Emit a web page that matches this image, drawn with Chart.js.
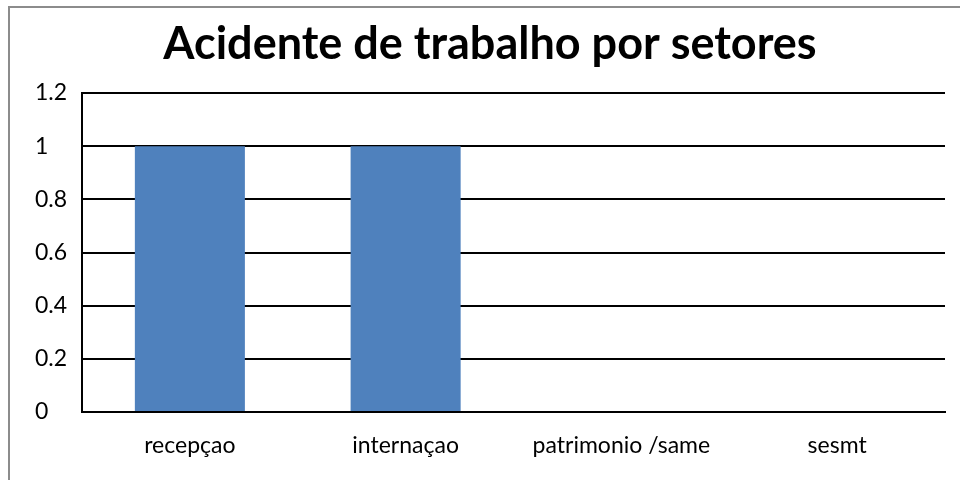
<!DOCTYPE html>
<html>
<head>
<meta charset="utf-8">
<script src="https://cdn.jsdelivr.net/npm/chart.js@4/dist/chart.umd.min.js"></script>
<style>
  body { margin: 0; background: #fff; }
  #wrap { position: relative; width: 960px; height: 480px; overflow: hidden; }
  #frame { position: absolute; left: 8px; top: 6px; width: 1000px; height: 520px; border-left: 2px solid #8c8c8c; border-top: 2px solid #8c8c8c; }
  canvas { position: absolute; left: 0; top: 0; }
</style>
</head>
<body>
<div id="wrap">
  <div id="frame"></div>
  <canvas id="chart" width="960" height="480"></canvas>
</div>
<script>
const setores = ["recepçao", "internaçao", "patrimonio /same", "sesmt"];
const acidentes = [1, 1, 0, 0];
const y_max = 1.2;
const y_step = 0.2;

const ctx = document.getElementById("chart");
new Chart(ctx, {
    type: "bar",
    data: {
        labels: setores,
        datasets: [{
            label: "Acidentes",
            data: acidentes,
            backgroundColor: "#4f81bd",
            borderWidth: 0,
            categoryPercentage: 1,
            barPercentage: 0.51
        }]
    },
    options: {
        responsive: false,
        animation: false,
        layout: {
            padding: { left: 35, right: 15, top: 0, bottom: 0 }
        },
        plugins: {
            legend: { display: false },
            tooltip: { enabled: false },
            title: {
                display: true,
                text: "Acidente de trabalho por setores",
                color: "#000",
                font: { family: "Lato", size: 45, weight: "bold", lineHeight: 1.2 },
                padding: { top: 17, bottom: 22 }
            }
        },
        scales: {
            x: {
                grid: { display: false, drawTicks: false },
                border: { display: true, color: "#000", width: 2 },
                ticks: {
                    color: "#000",
                    font: { family: "Lato", size: 23 },
                    padding: 20
                },
                afterFit: (scale) => { scale.height = 68; }
            },
            y: {
                min: 0,
                max: y_max,
                grid: { color: "#000", lineWidth: 2, drawTicks: false },
                border: { display: true, color: "#000", width: 2 },
                ticks: {
                    stepSize: y_step,
                    color: "#000",
                    crossAlign: "far",
                    font: { family: "Lato", size: 23 },
                    callback: (v) => Math.round(v * 10) / 10
                },
                afterFit: (scale) => { scale.width = 47; }
            }
        }
    }
});
</script>
</body>
</html>
